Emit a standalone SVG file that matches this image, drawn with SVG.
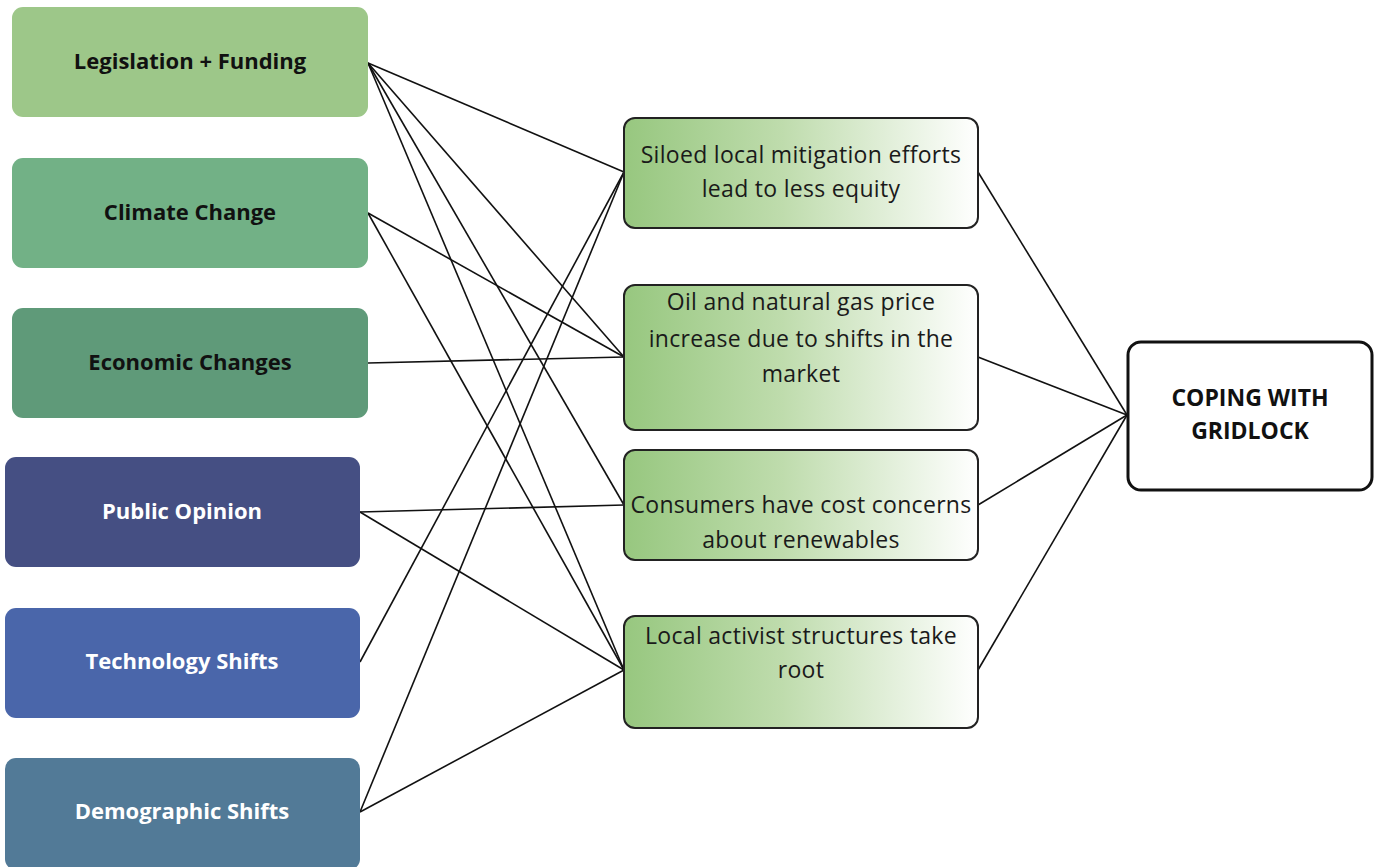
<svg xmlns="http://www.w3.org/2000/svg" width="1375" height="867" viewBox="0 0 1375 867">
<style>
.src text{font-family:"Open Sans","Liberation Sans",sans-serif;font-weight:bold;font-size:22px;text-anchor:middle}
.dark{fill:#111}
.light{fill:#fff}
.mid rect{stroke:#222;stroke-width:2;fill:url(#g)}
.mid text{font-family:"Open Sans","Liberation Sans",sans-serif;font-size:23px;letter-spacing:0.3px;fill:#1a1a1a;text-anchor:middle}
.conn line{stroke:#111;stroke-width:1.6;fill:none}
.cop{font-family:"Open Sans","Liberation Sans",sans-serif;font-weight:bold;font-size:23px;text-anchor:middle;fill:#111}
</style>
<defs>
<linearGradient id="g" x1="0" y1="0" x2="1" y2="0">
<stop offset="0" stop-color="#97c77f"/>
<stop offset="0.45" stop-color="#bfdcad"/>
<stop offset="1" stop-color="#ffffff"/>
</linearGradient>
</defs>
<rect width="1375" height="867" fill="#fff"/>
<g id="connectors" class="conn">
<line x1="368" y1="63" x2="624" y2="172"/>
<line x1="368" y1="63" x2="624" y2="357"/>
<line x1="368" y1="63" x2="624" y2="505"/>
<line x1="368" y1="63" x2="624" y2="670"/>
<line x1="368" y1="213" x2="624" y2="357"/>
<line x1="368" y1="213" x2="624" y2="670"/>
<line x1="368" y1="363" x2="624" y2="357"/>
<line x1="360" y1="512" x2="624" y2="505"/>
<line x1="360" y1="512" x2="624" y2="670"/>
<line x1="360" y1="662" x2="624" y2="172"/>
<line x1="360" y1="812" x2="624" y2="172"/>
<line x1="360" y1="812" x2="624" y2="670"/>
<line x1="978" y1="172" x2="1127" y2="415"/>
<line x1="978" y1="357" x2="1127" y2="415"/>
<line x1="978" y1="505" x2="1127" y2="415"/>
<line x1="978" y1="670" x2="1127" y2="415"/>
</g>
<g id="n-legislation" class="src"><rect x="12" y="7" width="356" height="110" rx="11" fill="#9dc789"/><text x="190" y="69" class="dark">Legislation + Funding</text></g>
<g id="n-climate" class="src"><rect x="12" y="158" width="356" height="110" rx="11" fill="#72b186"/><text x="190" y="220" class="dark">Climate Change</text></g>
<g id="n-economic" class="src"><rect x="12" y="308" width="356" height="110" rx="11" fill="#5f9a79"/><text x="190" y="370" class="dark">Economic Changes</text></g>
<g id="n-public" class="src"><rect x="5" y="457" width="355" height="110" rx="11" fill="#454f83"/><text x="182" y="519" class="light">Public Opinion</text></g>
<g id="n-technology" class="src"><rect x="5" y="608" width="355" height="110" rx="11" fill="#4a66aa"/><text x="182" y="669" class="light">Technology Shifts</text></g>
<g id="n-demographic" class="src"><rect x="5" y="758" width="355" height="112" rx="11" fill="#527a97"/><text x="182" y="819" class="light">Demographic Shifts</text></g>
<g id="n-siloed" class="mid"><rect x="624" y="118" width="354" height="110" rx="11"/><text x="801" y="163">Siloed local mitigation efforts</text><text x="801" y="197">lead to less equity</text></g>
<g id="n-oil" class="mid"><rect x="624" y="285" width="354" height="145" rx="11"/><text x="801" y="310">Oil and natural gas price</text><text x="801" y="347">increase due to shifts in the</text><text x="801" y="382">market</text></g>
<g id="n-consumers" class="mid"><rect x="624" y="450" width="354" height="110" rx="11"/><text x="801" y="513">Consumers have cost concerns</text><text x="801" y="548">about renewables</text></g>
<g id="n-local" class="mid"><rect x="624" y="616" width="354" height="112" rx="11"/><text x="801" y="644">Local activist structures take</text><text x="801" y="678">root</text></g>
<g id="n-coping"><rect x="1128" y="342" width="244" height="148" rx="13" fill="#fff" stroke="#111" stroke-width="3"/><text x="1250" y="406" class="cop">COPING WITH</text><text x="1250" y="439" class="cop">GRIDLOCK</text></g>
</svg>
